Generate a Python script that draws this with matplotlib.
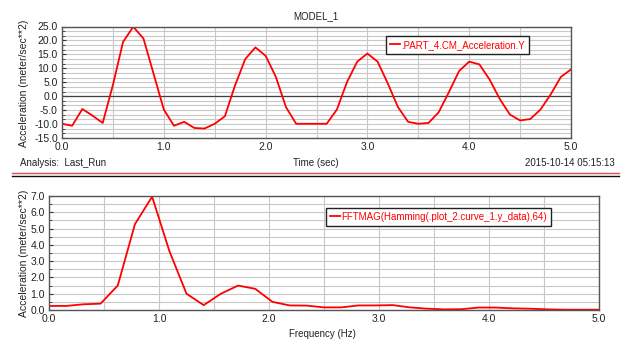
import numpy as np
import matplotlib
matplotlib.use("Agg")
import matplotlib.pyplot as plt
from matplotlib.ticker import MultipleLocator, FormatStrFormatter

plt.rcParams['font.family'] = ['Liberation Sans', 'DejaVu Sans']

# top plot: acceleration vs time, sampled every 0.1 s
time_s = [0.0, 0.1, 0.2, 0.3, 0.4, 0.5, 0.6, 0.7, 0.8, 0.9,
          1.0, 1.1, 1.2, 1.3, 1.4, 1.5, 1.6, 1.7, 1.8, 1.9,
          2.0, 2.1, 2.2, 2.3, 2.4, 2.5, 2.6, 2.7, 2.8, 2.9,
          3.0, 3.1, 3.2, 3.3, 3.4, 3.5, 3.6, 3.7, 3.8, 3.9,
          4.0, 4.1, 4.2, 4.3, 4.4, 4.5, 4.6, 4.7, 4.8, 4.9, 5.0]
accel_y = [-9.9, -10.6, -4.6, -7.0, -9.6, 4.0, 19.5, 24.9, 20.7, 8.0,
           -4.8, -10.6, -9.2, -11.4, -11.6, -9.9, -7.2, 3.9, 13.3, 17.5,
           14.5, 7.0, -3.9, -9.9, -9.9, -9.9, -9.9, -4.8, 5.1, 12.4,
           15.3, 12.4, 4.6, -3.9, -9.2, -9.9, -9.6, -5.8, 1.4, 9.0,
           12.4, 11.4, 6.0, -1.0, -6.6, -8.7, -8.2, -4.8, 0.6, 6.9, 9.6]

# bottom plot: FFT magnitude, 64 point -> df = 10/64 Hz
freq_bin = list(range(33))
fft_mag = [0.25, 0.25, 0.35, 0.39, 1.5, 5.27, 6.96, 3.63, 1.0, 0.3,
           1.0, 1.5, 1.3, 0.5, 0.28, 0.27, 0.16, 0.16, 0.28, 0.28,
           0.3, 0.16, 0.08, 0.04, 0.05, 0.15, 0.15, 0.1, 0.08, 0.04,
           0.02, 0.02, 0.02]
freq_hz = [k * 10.0 / 64 for k in freq_bin]

W, H = 622, 340
txt = '#222222'
grid_c = '#c8c8c8'
fs = 7

fig = plt.figure(figsize=(W / 100, H / 100), dpi=100)
fig.patch.set_facecolor('white')


def style(ax, ymaj, ymin):
    ax.set_xlim(0, 5)
    ax.xaxis.set_major_locator(MultipleLocator(1.0))
    ax.xaxis.set_minor_locator(MultipleLocator(0.5))
    ax.yaxis.set_major_locator(MultipleLocator(ymaj))
    ax.yaxis.set_minor_locator(MultipleLocator(ymin))
    ax.xaxis.set_major_formatter(FormatStrFormatter('%.1f'))
    ax.yaxis.set_major_formatter(FormatStrFormatter('%.1f'))
    ax.grid(True, which='both', color=grid_c, linewidth=0.8)
    ax.set_axisbelow(True)
    ax.tick_params(axis='x', which='both', length=0, pad=3, labelsize=fs + 0.5, labelcolor=txt)
    ax.tick_params(axis='y', which='major', direction='in', length=3, pad=3,
                   labelsize=fs + 0.5, labelcolor=txt, color='#333333')
    ax.tick_params(axis='y', which='minor', direction='in', length=2, color='#333333')
    for s in ax.spines.values():
        s.set_color('#555555')
        s.set_linewidth(1.0)


def red_legend(ax, anchor):
    leg = ax.legend(loc='upper left', bbox_to_anchor=anchor, fontsize=fs,
                    handlelength=1.0, handletextpad=0.15, borderpad=0.4,
                    fancybox=False, framealpha=1, borderaxespad=0)
    leg.get_frame().set_edgecolor('#222222')
    leg.get_frame().set_linewidth(1.0)
    for t in leg.get_texts():
        t.set_color('#ff0000')


# top axes
ax1 = fig.add_axes([62 / W, 1 - 138 / H, 509 / W, 111.5 / H])
ax1.plot(time_s, accel_y, color='#ff0000', linewidth=1.3,
         label='.PART_4.CM_Acceleration.Y')
ax1.axhline(0, color='#404040', linewidth=0.9, zorder=1.5)
ax1.set_ylim(-15, 25)
style(ax1, 5.0, 5.0 / 3)
red_legend(ax1, (0.637, 0.915))

fig.text(316 / W, 1 - 16 / H, 'MODEL_1', ha='center', va='center', fontsize=fs, color=txt)
fig.text(24 / W, 1 - 83 / H, 'Acceleration (meter/sec**2)', rotation=90,
         ha='center', va='center', fontsize=7.5, color=txt)
fig.text(20 / W, 1 - 163 / H, 'Analysis:  Last_Run', ha='left', va='center', fontsize=fs, color=txt)
fig.text(316 / W, 1 - 163 / H, 'Time (sec)', ha='center', va='center', fontsize=fs, color=txt)
fig.text(615 / W, 1 - 163 / H, '2015-10-14 05:15:13', ha='right', va='center', fontsize=fs, color=txt)

# separator lines
fig.add_artist(plt.Line2D([12 / W, 619 / W], [1 - 173 / H] * 2, color='#e05050', linewidth=1.0))
fig.add_artist(plt.Line2D([12 / W, 619 / W], [1 - 176 / H] * 2, color='#111111', linewidth=1.0))

# bottom axes
ax2 = fig.add_axes([49 / W, 1 - 310 / H, 550 / W, 114 / H])
ax2.plot(freq_hz, fft_mag, color='#ff0000', linewidth=1.3,
         label='FFTMAG(Hamming(.plot_2.curve_1.y_data),64)')
ax2.set_ylim(0, 7)
style(ax2, 1.0, 0.5)
red_legend(ax2, (0.504, 0.895))

fig.text(24 / W, 1 - 253 / H, 'Acceleration (meter/sec**2)', rotation=90,
         ha='center', va='center', fontsize=7.5, color=txt)
fig.text(322 / W, 1 - 334 / H, 'Frequency (Hz)', ha='center', va='center', fontsize=fs, color=txt)

fig.savefig('out.png', dpi=100)
